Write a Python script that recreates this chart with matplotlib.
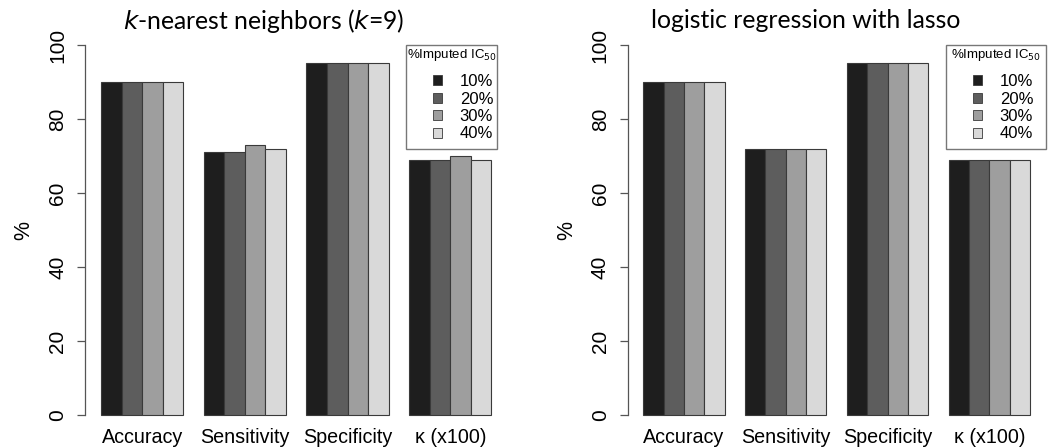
import matplotlib.pyplot as plt
import numpy as np
from matplotlib.patches import Patch, Rectangle

plt.rcParams['font.family'] = ['Liberation Sans', 'DejaVu Sans']

metrics = ['Accuracy', 'Sensitivity', 'Specificity', 'κ (x100)']
imputed = ['10%', '20%', '30%', '40%']
colors = ['#1e1e1e', '#5d5d5d', '#9e9e9e', '#d9d9d9']

# rows: % imputed IC50, columns: metrics
knn_vals = [
    [90, 71, 95, 69],
    [90, 71, 95, 69],
    [90, 73, 95, 70],
    [90, 72, 95, 69],
]
lasso_vals = [
    [90, 72, 95, 69],
    [90, 72, 95, 69],
    [90, 72, 95, 69],
    [90, 72, 95, 69],
]

fig = plt.figure(figsize=(10.61, 4.48), dpi=100)
W, H = 1061, 448


def px_axes(left, right, top, bottom):
    return fig.add_axes([left / W, 1 - bottom / H, (right - left) / W, (bottom - top) / H])


def draw_panel(ax, vals, title, title_x, legend_box):
    n_series = len(vals)
    n_groups = len(vals[0])
    # R style beside barplot: unit-width bars, one-unit gap between groups
    for i in range(n_series):
        lefts = [1 + g * (n_series + 1) + i for g in range(n_groups)]
        ax.bar(lefts, vals[i], width=1, align='edge', color=colors[i],
               edgecolor='#3a3a3a', linewidth=0.8, zorder=2)
    centers = [1 + g * (n_series + 1) + n_series / 2 for g in range(n_groups)]
    ax.set_xticks(centers)
    ax.set_xticklabels(metrics, fontsize=14.2)
    ax.tick_params(axis='x', length=0, pad=-1)
    last = 1 + (n_groups - 1) * (n_series + 1) + n_series
    ext = (last - 1) * 0.04
    ax.set_xlim(1 - ext, last + ext)
    ax.set_ylim(-4, 104)
    ax.set_yticks([0, 20, 40, 60, 80, 100])
    ax.set_yticklabels(['0', '20', '40', '60', '80', '100'], rotation=90,
                       va='center', fontsize=15)
    ax.tick_params(axis='y', length=6, width=0.9, color='#555555', pad=7)
    for s in ['top', 'right', 'bottom']:
        ax.spines[s].set_visible(False)
    ax.spines['left'].set_bounds(0, 100)
    ax.spines['left'].set_color('#555555')
    ax.spines['left'].set_linewidth(0.9)
    ax.set_ylabel('%', fontsize=15.5, labelpad=10)
    fig.text(title_x / W, 1 - 21 / H, title, ha='center', va='center',
             fontsize=17.8, family=['Lato', 'DejaVu Sans'])

    # legend frame and heading drawn separately so the layout can be set directly
    x0, y0, x1, y1 = legend_box
    ax.add_patch(Rectangle((x0 / W, 1 - y1 / H), (x1 - x0) / W, (y1 - y0) / H,
                           transform=fig.transFigure, facecolor='white',
                           edgecolor='#777777', linewidth=1.0, zorder=5,
                           clip_on=False))
    ax.text((x0 + x1) / 2 / W, 1 - (y0 + 10) / H, '%Imputed IC$_{50}$',
            transform=fig.transFigure, ha='center', va='center',
            fontsize=9.5, zorder=6)
    handles = [Patch(facecolor=c, edgecolor='#3a3a3a', linewidth=0.6) for c in colors]
    leg = ax.legend(handles, imputed, loc='upper left',
                    bbox_to_anchor=((x0 + 27) / W, 1 - (y0 + 29) / H),
                    bbox_transform=fig.transFigure,
                    fontsize=12, handlelength=0.55, handleheight=0.55,
                    handletextpad=1.05, labelspacing=0.15, borderpad=0,
                    frameon=False, borderaxespad=0)
    leg.set_zorder(6)


ax1 = px_axes(85.4, 507, 30.2, 429.8)
draw_panel(ax1, knn_vals, '$k$-nearest neighbors ($k$=9)', 264, (406, 45, 497, 149))

ax2 = px_axes(627.8, 1045.5, 30.2, 429.8)
draw_panel(ax2, lasso_vals, 'logistic regression with lasso', 806, (946, 45, 1046, 149))

fig.savefig('out.png', dpi=100)
